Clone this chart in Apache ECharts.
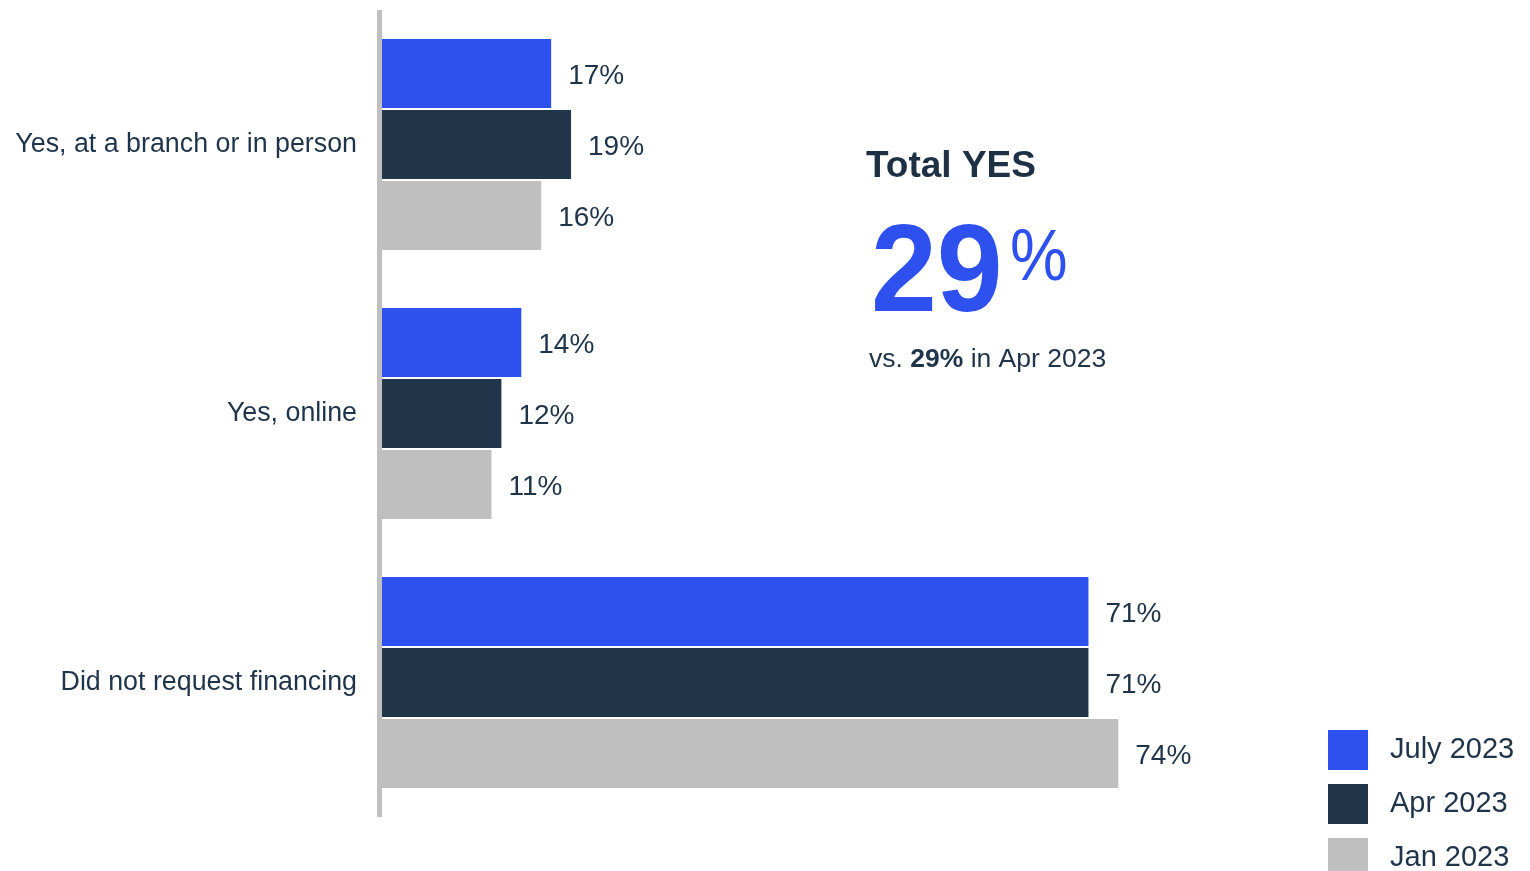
<!DOCTYPE html>
<html>
<head>
<meta charset="utf-8">
<title>Financing requests</title>
<script src="https://cdn.jsdelivr.net/npm/echarts@6/dist/echarts.min.js"></script>
<style>
  html, body { margin: 0; padding: 0; background: #ffffff; }
  #chart { width: 1530px; height: 871px; }
</style>
</head>
<body>
<div id="chart"></div>
<script>
// Survey answers, top to bottom
const categories = ['Yes, at a branch or in person', 'Yes, online', 'Did not request financing'];
const periods = ['July 2023', 'Apr 2023', 'Jan 2023'];
const july2023 = [17, 14, 71];
const apr2023 = [19, 12, 71];
const jan2023 = [16, 11, 74];
const totalYes = 29;
const totalYesPrev = 29;
const prevPeriod = 'Apr 2023';

const seriesValues = [july2023, apr2023, jan2023];
const colors = ['#2d50ee', '#21364b', '#bfbfbf'];
const textColor = '#1f3349';
const font = '"Liberation Sans", Arial, sans-serif';

const chart = echarts.init(document.getElementById('chart'));

chart.setOption({
  animation: false,
  backgroundColor: '#ffffff',
  grid: { left: 382, top: 10, width: 995, height: 807, containLabel: false },
  xAxis: {
    type: 'value', min: 0, max: 100, show: false
  },
  yAxis: {
    type: 'category',
    data: categories,
    inverse: true,
    offset: 3,
    axisLine: { show: true, onZero: false, lineStyle: { color: '#bfbfbf', width: 5, cap: 'butt' } },
    axisTick: { show: false },
    axisLabel: { margin: 22, fontSize: 26.8, color: textColor, fontFamily: font }
  },
  legend: {
    data: periods,
    orient: 'vertical',
    left: 1323,
    top: 725,
    height: 200,
    itemWidth: 40,
    itemHeight: 40,
    itemGap: 14,
    icon: 'rect',
    textStyle: { fontSize: 29, color: textColor, fontFamily: font, padding: [4, 0, 0, 17] }
  },
  series: periods.map((name, i) => ({
    name,
    type: 'bar',
    data: seriesValues[i],
    barWidth: 69,
    barGap: '3%',
    itemStyle: { color: colors[i] },
    label: {
      show: true,
      position: 'right',
      distance: 17,
      offset: [0, 3],
      formatter: '{c}%',
      fontSize: 28,
      color: textColor,
      fontFamily: font
    }
  })),
  graphic: [
    {
      type: 'text', left: 866, top: 148,
      style: { text: 'Total YES', fontSize: 37, fontWeight: 'bold', fill: '#1e3144', fontFamily: font }
    },
    {
      type: 'text', x: 871, y: 277, scaleX: 0.955,
      style: { text: String(totalYes), fontSize: 124, fontWeight: 'bold', fill: '#2d50ee', fontFamily: font, verticalAlign: 'middle' }
    },
    {
      type: 'text', x: 1010, y: 260, scaleX: 0.9,
      style: { text: '%', fontSize: 72, fill: '#2d50ee', fontFamily: font, verticalAlign: 'middle' }
    },
    {
      type: 'text', x: 869, y: 360,
      style: {
        text: '{r|vs. }{b|' + totalYesPrev + '%}{r| in ' + prevPeriod + '}',
        verticalAlign: 'middle',
        rich: {
          r: { fontSize: 26.5, fill: textColor, fontFamily: font },
          b: { fontSize: 26.5, fontWeight: 'bold', fill: textColor, fontFamily: font }
        }
      }
    }
  ]
});
</script>
</body>
</html>
